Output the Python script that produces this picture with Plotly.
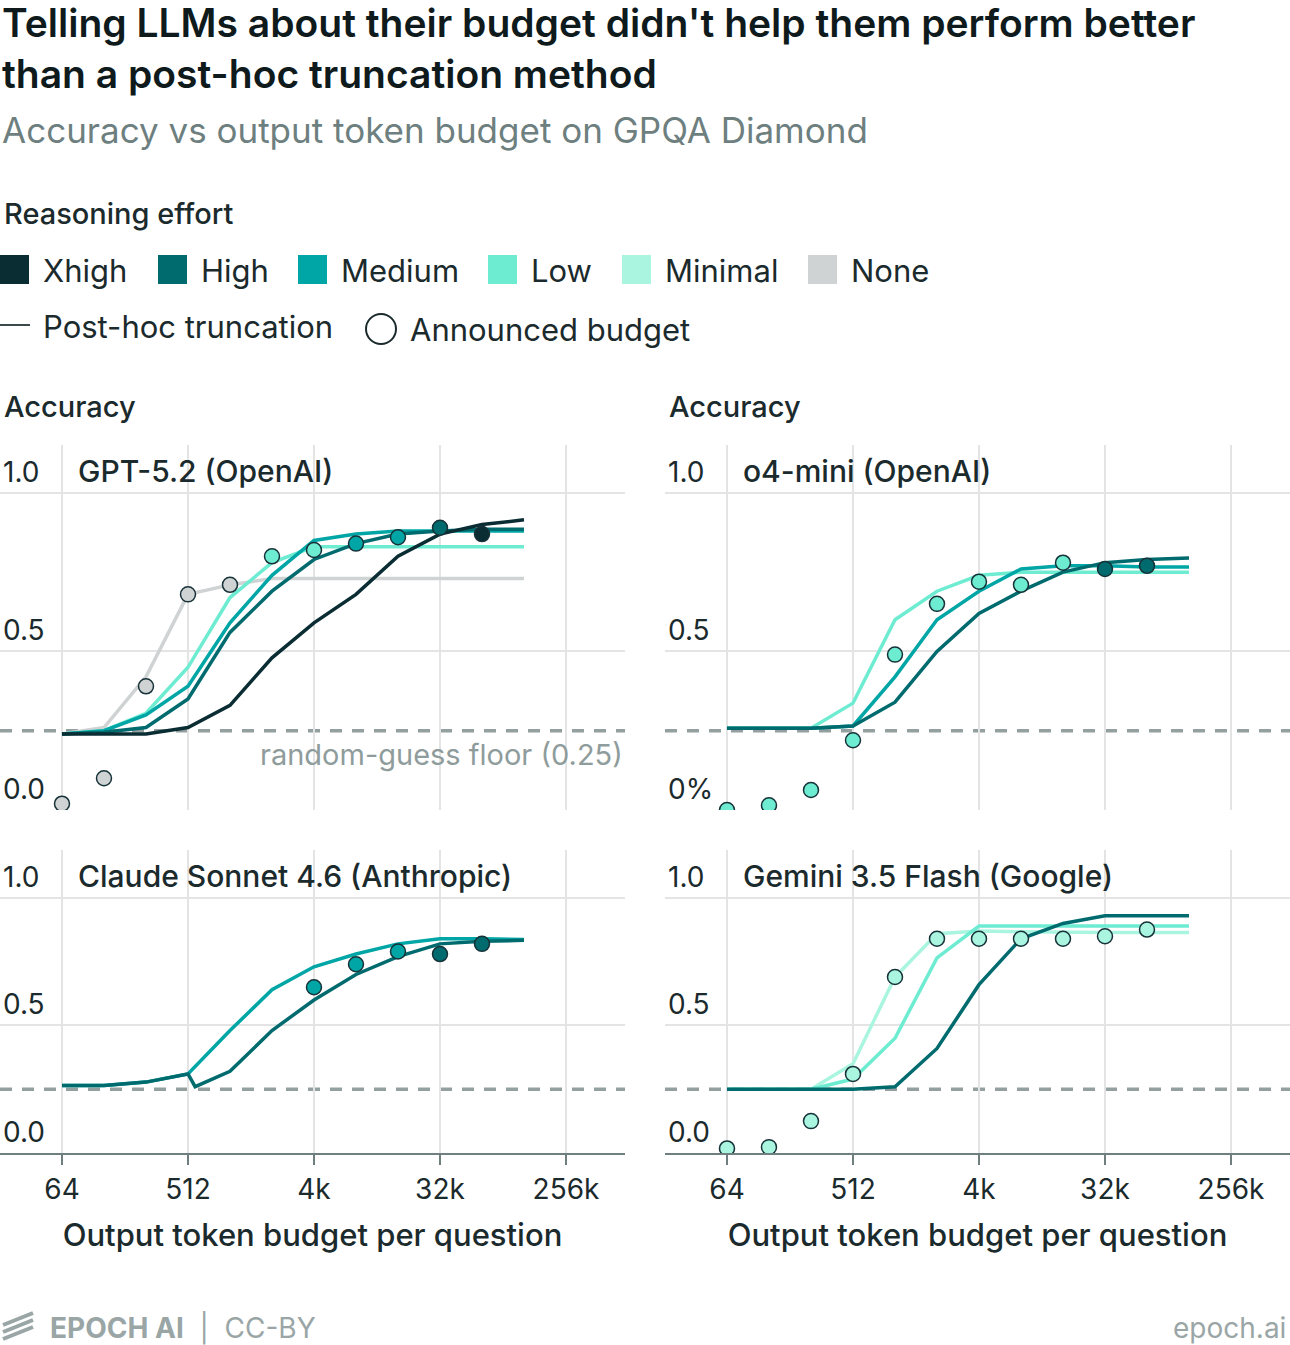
import math
import plotly.graph_objects as go

# budgets (output tokens)
budgets = [64, 128, 256, 512, 1024, 2048, 4096, 8192, 16384, 32768, 65536, 131072]

efforts = ["Xhigh", "High", "Medium", "Low", "Minimal", "None"]
colors = {"Xhigh": "#0a2c33", "High": "#006b6e", "Medium": "#00a6a6",
          "Low": "#6eecd2", "Minimal": "#aaf5e0", "None": "#d0d3d3"}

# GPT-5.2 (OpenAI) - post-hoc truncation lines
gpt_none = [0.24, 0.26, 0.42, 0.68, 0.71, 0.73, 0.73, 0.73, 0.73, 0.73, 0.73, 0.73]
gpt_low = [0.24, 0.25, 0.305, 0.45, 0.67, 0.78, 0.83, 0.83, 0.83, 0.83, 0.83, 0.83]
gpt_medium = [0.24, 0.25, 0.30, 0.39, 0.59, 0.74, 0.85, 0.87, 0.88, 0.88, 0.88, 0.88]
gpt_high = [0.24, 0.245, 0.26, 0.35, 0.56, 0.69, 0.79, 0.84, 0.87, 0.88, 0.885, 0.885]
gpt_xhigh = [0.24, 0.24, 0.24, 0.26, 0.33, 0.48, 0.59, 0.68, 0.80, 0.87, 0.90, 0.915]
# announced budget points
gpt_dot_x = [64, 128, 256, 512, 1024, 2048, 4096, 8192, 16384, 32768, 65536]
gpt_dot_y = [0.02, 0.10, 0.39, 0.68, 0.71, 0.80, 0.82, 0.84, 0.86, 0.89, 0.87]
gpt_dot_e = ["None", "None", "None", "None", "None", "Low", "Low", "Medium", "Medium", "High", "Xhigh"]

# o4-mini (OpenAI)
o4_low = [0.258, 0.258, 0.258, 0.337, 0.60, 0.69, 0.74, 0.75, 0.75, 0.75, 0.75, 0.75]
o4_medium = [0.258, 0.258, 0.258, 0.265, 0.42, 0.60, 0.69, 0.76, 0.77, 0.77, 0.766, 0.766]
o4_high = [0.258, 0.258, 0.258, 0.265, 0.34, 0.50, 0.62, 0.69, 0.75, 0.78, 0.79, 0.795]
o4_dot_x = [64, 128, 256, 512, 1024, 2048, 4096, 8192, 16384, 32768, 65536]
o4_dot_y = [0.0, 0.015, 0.063, 0.22, 0.49, 0.65, 0.72, 0.71, 0.78, 0.76, 0.77]
o4_dot_e = ["Low"] * 9 + ["High", "High"]

# Claude Sonnet 4.6 (Anthropic)
cl_medium = [0.265, 0.265, 0.278, 0.31, 0.48, 0.64, 0.73, 0.78, 0.82, 0.84, 0.84, 0.837]
cl_high_x = [64, 128, 256, 512, 576, 1024, 2048, 4096, 8192, 16384, 32768, 65536, 131072]
cl_high = [0.265, 0.265, 0.278, 0.31, 0.26, 0.32, 0.48, 0.60, 0.70, 0.77, 0.82, 0.83, 0.834]
cl_dot_x = [4096, 8192, 16384, 32768, 65536]
cl_dot_y = [0.65, 0.74, 0.79, 0.78, 0.82]
cl_dot_e = ["Medium", "Medium", "Medium", "High", "High"]

# Gemini 3.5 Flash (Google)
gm_minimal = [0.25, 0.25, 0.25, 0.35, 0.69, 0.86, 0.87, 0.867, 0.865, 0.865, 0.865, 0.865]
gm_low = [0.25, 0.25, 0.25, 0.29, 0.45, 0.765, 0.89, 0.89, 0.89, 0.89, 0.89, 0.89]
gm_high = [0.25, 0.25, 0.25, 0.25, 0.26, 0.41, 0.66, 0.84, 0.90, 0.93, 0.93, 0.93]
gm_dot_x = [64, 128, 256, 512, 1024, 2048, 4096, 8192, 16384, 32768, 65536]
gm_dot_y = [0.018, 0.023, 0.125, 0.31, 0.69, 0.84, 0.84, 0.84, 0.84, 0.85, 0.876]
gm_dot_e = ["Minimal"] * 11

panels = [
    ("GPT-5.2 (OpenAI)", [("None", budgets, gpt_none), ("Low", budgets, gpt_low),
                          ("Medium", budgets, gpt_medium), ("High", budgets, gpt_high),
                          ("Xhigh", budgets, gpt_xhigh)], gpt_dot_x, gpt_dot_y, gpt_dot_e),
    ("o4-mini (OpenAI)", [("Low", budgets, o4_low), ("Medium", budgets, o4_medium),
                          ("High", budgets, o4_high)], o4_dot_x, o4_dot_y, o4_dot_e),
    ("Claude Sonnet 4.6 (Anthropic)", [("Medium", budgets, cl_medium), ("High", cl_high_x, cl_high)],
     cl_dot_x, cl_dot_y, cl_dot_e),
    ("Gemini 3.5 Flash (Google)", [("Minimal", budgets, gm_minimal), ("Low", budgets, gm_low),
                                   ("High", budgets, gm_high)], gm_dot_x, gm_dot_y, gm_dot_e),
]

W, H = 1290, 1345
FONT = "Inter"
DARK = "#1b2a2c"
GREY = "#8f9c9c"


def py(px):
    return 1 - px / H


def pxx(px):
    return px / W


# panel pixel boxes: x0, x1, ytop, ybottom, ymax
boxes = [(0, 625, 445, 810, 1.151), (665, 1290, 445, 810, 1.151),
         (0, 625, 850, 1153, 1.188), (665, 1290, 850, 1153, 1.188)]
xr = [math.log10(2 ** 4.524), math.log10(2 ** 19.405)]
tickvals = [64, 512, 4096, 32768, 262144]
ticktext = ["64", "512", "4k", "32k", "256k"]

fig = go.Figure()
layout = {}
annotations = []
shapes = []

for i, (name, lines, dx, dy, de) in enumerate(panels):
    n = i + 1
    xa = "x" if n == 1 else "x%d" % n
    ya = "y" if n == 1 else "y%d" % n
    x0, x1, yt, yb, ymax = boxes[i]
    bottom = i >= 2
    layout["xaxis" if n == 1 else "xaxis%d" % n] = dict(
        domain=[pxx(x0), pxx(x1)], anchor=ya, type="log", range=xr,
        tickvals=tickvals, ticktext=ticktext, showticklabels=bottom,
        showgrid=True, gridcolor="#e4e4e4", gridwidth=2, zeroline=False,
        showline=bottom, linecolor="#6f7f7f", linewidth=2,
        ticks="outside" if bottom else "", ticklen=10, tickwidth=2, tickcolor="#6f7f7f",
        tickfont=dict(family=FONT, size=28, color=DARK),
        title=dict(text="Output token budget per question" if bottom else "",
                   font=dict(family=FONT, size=31, color=DARK, weight=500), standoff=20),
    )
    layout["yaxis" if n == 1 else "yaxis%d" % n] = dict(
        domain=[py(yb), py(yt)], anchor=xa, range=[0, ymax],
        tickvals=[0, 0.5, 1.0], showticklabels=False,
        showgrid=True, gridcolor="#e4e4e4", gridwidth=2, zeroline=False,
    )
    # random-guess floor
    shapes.append(dict(type="line", xref="%s domain" % xa, yref=ya, x0=0, x1=1, y0=0.25, y1=0.25,
                       line=dict(color="#94a0a0", width=3.5, dash="12px,10px"), layer="below"))
    for effort, bx, vals in lines:
        fig.add_trace(go.Scatter(x=bx, y=vals, mode="lines", xaxis=xa, yaxis=ya, showlegend=False,
                                 line=dict(color=colors[effort], width=3.5), hoverinfo="skip"))
    fig.add_trace(go.Scatter(x=dx, y=dy, mode="markers", xaxis=xa, yaxis=ya, showlegend=False,
                             marker=dict(size=15, color=[colors[e] for e in de],
                                         line=dict(color="#163238", width=1.5))))
    # y tick labels above gridlines
    labels = ["0.0", "0.5", "1.0"]
    if i == 1:
        labels[0] = "0%"
    for v, t in zip([0, 0.5, 1.0], labels):
        annotations.append(dict(text=t, xref="paper", yref=ya, x=pxx(x0 + 1), y=v, xanchor="left",
                                yanchor="bottom", yshift=2, showarrow=False,
                                font=dict(family=FONT, size=28, color=DARK)))
    annotations.append(dict(text=name, xref="paper", yref=ya, x=pxx(x0 + 76), y=1.0, xanchor="left",
                            yanchor="bottom", yshift=2, showarrow=False,
                            font=dict(family=FONT, size=30, color=DARK, weight=500)))

annotations.append(dict(text="random-guess floor (0.25)", xref="paper", yref="y", x=pxx(625), y=0.25,
                        xanchor="right", yanchor="top", yshift=-4, showarrow=False,
                        font=dict(family=FONT, size=29, color=GREY)))
for xp in (2, 667):
    annotations.append(dict(text="Accuracy", xref="paper", yref="paper", x=pxx(xp), y=py(406),
                            xanchor="left", yanchor="middle", showarrow=False,
                            font=dict(family=FONT, size=29, color=DARK, weight=500)))

# titles
annotations.append(dict(text="Telling LLMs about their budget didn't help them perform better<br>than a post-hoc truncation method",
                        xref="paper", yref="paper", x=0, y=py(-3), xanchor="left", yanchor="top", align="left",
                        showarrow=False, font=dict(family=FONT, size=39, color="#0f1a1c", weight=600)))
annotations.append(dict(text="Accuracy vs output token budget on GPQA Diamond", xref="paper", yref="paper",
                        x=0, y=py(130), xanchor="left", yanchor="middle", showarrow=False,
                        font=dict(family=FONT, size=35, color="#6e7f7f")))
annotations.append(dict(text="Reasoning effort", xref="paper", yref="paper", x=pxx(2), y=py(214),
                        xanchor="left", yanchor="middle", showarrow=False,
                        font=dict(family=FONT, size=29, color=DARK, weight=500)))

# legend (manual)
sw_x = [0, 158, 298, 488, 622, 808]
for e, sx in zip(efforts, sw_x):
    shapes.append(dict(type="rect", xref="paper", yref="paper", x0=pxx(sx), x1=pxx(sx + 29),
                       y0=py(284), y1=py(255), fillcolor=colors[e], line=dict(width=0)))
    annotations.append(dict(text=e, xref="paper", yref="paper", x=pxx(sx + 41), y=py(270),
                            xanchor="left", yanchor="middle", showarrow=False,
                            font=dict(family=FONT, size=31, color=DARK)))
shapes.append(dict(type="line", xref="paper", yref="paper", x0=pxx(0), x1=pxx(30), y0=py(325), y1=py(325),
                   line=dict(color="#3a4a4a", width=2)))
annotations.append(dict(text="Post-hoc truncation", xref="paper", yref="paper", x=pxx(41), y=py(326),
                        xanchor="left", yanchor="middle", showarrow=False,
                        font=dict(family=FONT, size=31, color=DARK)))
shapes.append(dict(type="circle", xref="paper", yref="paper", x0=pxx(366), x1=pxx(396), y0=py(344), y1=py(314),
                   line=dict(color=DARK, width=2), fillcolor="white"))
annotations.append(dict(text="Announced budget", xref="paper", yref="paper", x=pxx(408), y=py(329),
                        xanchor="left", yanchor="middle", showarrow=False,
                        font=dict(family=FONT, size=31, color=DARK)))

# footer
for k in range(3):
    shapes.append(dict(type="line", xref="paper", yref="paper", x0=pxx(3), x1=pxx(33),
                       y0=py(1333 + 6 - k * 7), y1=py(1325 + 6 - k * 7 - 4),
                       line=dict(color="#9aa6a6", width=4)))
annotations.append(dict(text="<b>EPOCH AI</b>  |  CC-BY", xref="paper", yref="paper", x=pxx(48), y=py(1328),
                        xanchor="left", yanchor="middle", showarrow=False,
                        font=dict(family=FONT, size=28, color="#9aa6a6")))
annotations.append(dict(text="epoch.ai", xref="paper", yref="paper", x=pxx(1288), y=py(1328),
                        xanchor="right", yanchor="middle", showarrow=False,
                        font=dict(family=FONT, size=28, color="#9aa6a6")))

fig.update_layout(width=W, height=H, margin=dict(l=0, r=0, t=0, b=0), plot_bgcolor="white",
                  paper_bgcolor="white", annotations=annotations, shapes=shapes, **layout)
fig.write_html("out.html", config={"displayModeBar": False},
               post_script="document.body.style.margin='0';document.body.style.overflow='hidden';")
